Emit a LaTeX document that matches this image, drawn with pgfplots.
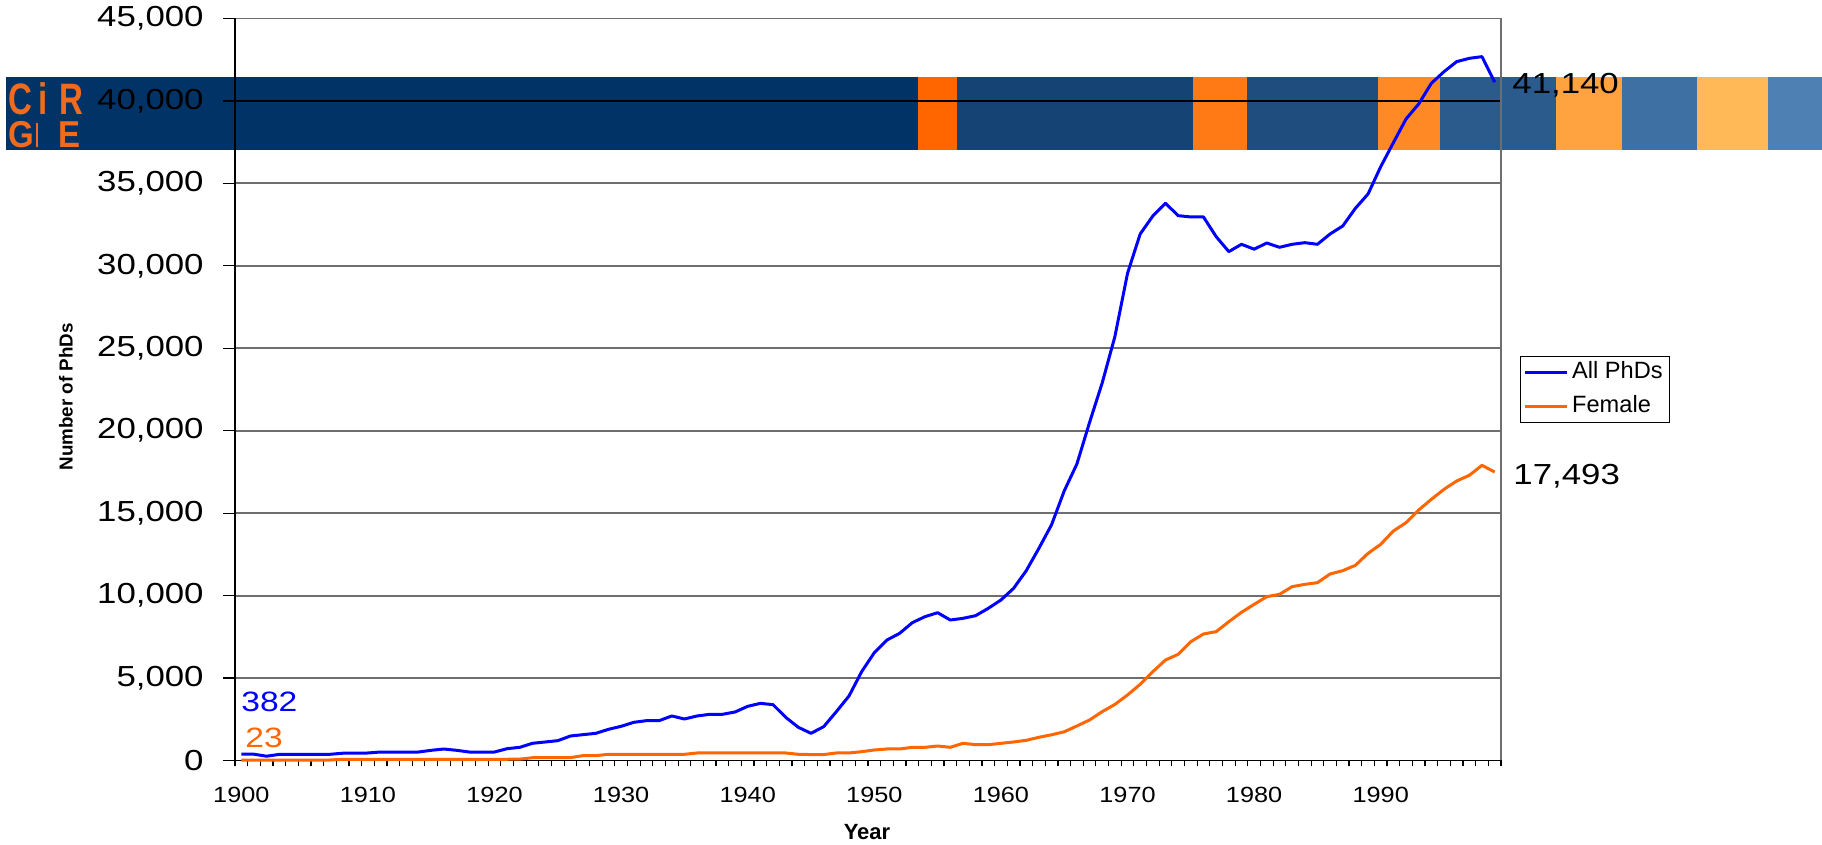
\documentclass[border=0pt]{standalone}
\usepackage{fontspec}
\setmainfont{Liberation Sans}
\usepackage{graphicx}
\usepackage{pgfplots}
\usepackage{pgfplotstable}
\pgfplotsset{compat=1.18}

\definecolor{navy}{HTML}{023366}
\definecolor{bo1}{HTML}{FF6600}
\definecolor{bb2}{HTML}{154373}
\definecolor{bo2}{HTML}{FF7A14}
\definecolor{bb3}{HTML}{1F4E7E}
\definecolor{bo3}{HTML}{FF8A25}
\definecolor{bb4}{HTML}{2B5B8C}
\definecolor{bo4}{HTML}{FFA23F}
\definecolor{bb5}{HTML}{3F70A3}
\definecolor{bo5}{HTML}{FFBA57}
\definecolor{bb6}{HTML}{4F80B4}
\definecolor{logoorange}{HTML}{F26B1D}
\definecolor{lineorange}{HTML}{FF6600}
\definecolor{lineblue}{HTML}{0000FF}
\definecolor{gridgray}{HTML}{6E6E6E}

\pgfplotstableread{
year all female
1900 382 23
1901 380 23
1902 260 25
1903 370 25
1904 370 25
1905 370 25
1906 370 25
1907 375 30
1908 440 70
1909 440 70
1910 455 70
1911 515 70
1912 515 70
1913 515 70
1914 515 70
1915 617 70
1916 697 70
1917 617 70
1918 515 70
1919 515 70
1920 515 70
1921 717 75
1922 800 80
1923 1043 170
1924 1122 170
1925 1203 170
1926 1486 175
1927 1567 293
1928 1648 293
1929 1890 375
1930 2072 375
1931 2315 375
1932 2416 375
1933 2416 375
1934 2700 375
1935 2517 375
1936 2700 455
1937 2800 455
1938 2800 455
1939 2942 455
1940 3285 455
1941 3466 455
1942 3385 455
1943 2618 455
1944 2012 375
1945 1648 360
1946 2052 360
1947 2962 455
1948 3912 455
1949 5388 536
1950 6540 637
1951 7308 698
1952 7712 698
1953 8359 799
1954 8722 799
1955 8964 879
1956 8520 799
1957 8621 1041
1958 8783 960
1959 9228 960
1960 9733 1041
1961 10440 1122
1962 11511 1223
1963 12869 1405
1964 14300 1560
1965 16350 1740
1966 17983 2092
1967 20500 2456
1968 22900 2962
1969 25706 3400
1970 29547 3973
1971 31932 4620
1972 33024 5388
1973 33793 6095
1974 33043 6439
1975 32963 7207
1976 32963 7672
1977 31771 7813
1978 30861 8419
1979 31306 8985
1980 31010 9470
1981 31385 9935
1982 31124 10076
1983 31306 10541
1984 31404 10683
1985 31306 10784
1986 31932 11311
1987 32417 11513
1988 33490 11836
1989 34358 12564
1990 36015 13110
1991 37470 13919
1992 38907 14424
1993 39816 15193
1994 41072 15840
1995 41776 16447
1996 42383 16952
1997 42585 17296
1998 42686 17903
1999 41140 17493
}\phddata

\begin{document}
\begin{tikzpicture}
\useasboundingbox (-117.5pt,-42.25pt) rectangle (793.5pt,380.25pt);
% banner
\fill[navy] (-114.5pt,305.25pt) rectangle (341.5pt,341.75pt);
\fill[bo1] (341.5pt,305.25pt) rectangle (361pt,341.75pt);
\fill[bb2] (361pt,305.25pt) rectangle (479pt,341.75pt);
\fill[bo2] (479pt,305.25pt) rectangle (506pt,341.75pt);
\fill[bb3] (506pt,305.25pt) rectangle (571.5pt,341.75pt);
\fill[bo3] (571.5pt,305.25pt) rectangle (602.5pt,341.75pt);
\fill[bb4] (602.5pt,305.25pt) rectangle (660.5pt,341.75pt);
\fill[bo4] (660.5pt,305.25pt) rectangle (693.5pt,341.75pt);
\fill[bb5] (693.5pt,305.25pt) rectangle (731pt,341.75pt);
\fill[bo5] (731pt,305.25pt) rectangle (766.5pt,341.75pt);
\fill[bb6] (766.5pt,305.25pt) rectangle (793.5pt,341.75pt);
% logo
\node[inner sep=0pt, anchor=base west, text=logoorange, font=\fontsize{22}{22}\selectfont\bfseries]
  at (-113.5pt,322.75pt) {\rlap{\raisebox{-16.25pt}{\scalebox{0.75}[0.85]{G\hspace{16pt}E}}}\scalebox{0.75}[1]{C\hspace{4pt}i\hspace{8pt}R}};
\fill[logoorange] (-99.5pt,306.5pt) rectangle (-98.3pt,318.5pt);

\begin{axis}[
  at={(0pt,0pt)}, anchor=south west,
  scale only axis, width=633pt, height=371pt,
  xmin=1899.5, xmax=1999.5, ymin=0, ymax=45000,
  clip=false,
  axis x line*=bottom, axis y line*=left,
  axis line style={black, line width=0.6pt},
  tick align=outside, major tick length=6pt, minor tick length=3pt,
  tick style={black, line width=0.6pt},
  xtick={1900,1910,...,1990},
  minor xtick={1899.5,1900.5,...,1999.5},
  major x tick style={draw=none},
  ytick={0,5000,...,45000},
  scaled y ticks=false,
  ymajorgrids,
  major grid style={gridgray, line width=0.9pt},
  extra y ticks={40000}, extra y tick labels={},
  extra y tick style={grid=major, major grid style={black, line width=0.6pt}},
  yticklabel={\scalebox{1.2}[1]{\pgfmathprintnumber[fixed,precision=0,1000 sep={,},assume math mode=true]{\tick}}},
  xticklabel={\scalebox{1.15}[1]{\pgfmathprintnumber[fixed,precision=0,1000 sep={},assume math mode=true]{\tick}}},
  yticklabel style={anchor=east, inner sep=0pt, xshift=-9.5pt, font=\fontsize{14.5}{16}\selectfont},
  xticklabel style={anchor=north, inner sep=0pt, yshift=-7pt, font=\fontsize{11}{13}\selectfont},
  ylabel={Number of PhDs},
  ylabel style={at={(axis description cs:-0.1335,0.49)}, anchor=center, font=\fontsize{9.4}{11}\selectfont\bfseries},
  xlabel={Year},
  xlabel style={at={(axis description cs:0.4992,-0.0964)}, anchor=center, font=\fontsize{11}{13}\selectfont\bfseries},
  legend style={at={(rel axis cs:1.015,0.545)}, anchor=north west, draw=black, line width=0.6pt,
    font=\fontsize{11.8}{13}\selectfont, inner xsep=1.5pt, inner ysep=0.5pt, row sep=2pt,
    nodes={inner sep=2pt, text height=8.5pt, text depth=2.5pt}},
  legend cell align=left,
  legend image code/.code={\draw[#1, line width=1.3pt] (0pt,0pt) -- (21pt,0pt);},
]
\addplot[lineblue, line width=1.5pt, line join=round] table[x=year, y=all] {\phddata};
\addlegendentry{All PhDs}
\addplot[lineorange, line width=1.5pt, line join=round] table[x=year, y=female] {\phddata};
\addlegendentry{Female}
\draw[gridgray, line width=0.9pt] (rel axis cs:1,0) -- (rel axis cs:1,1);
\pgfplotsinvokeforeach{0,5000,10000,15000,20000,25000,30000,35000,40000,45000}{
  \draw[black, line width=0.6pt] (axis cs:1899.5,#1) -- ++(-6pt,0pt);
}
\node[anchor=base west, inner sep=0pt, text=lineblue, font=\fontsize{14}{16}\selectfont] at (axis cs:1899.97,2941) {\scalebox{1.2}[1]{382}};
\node[anchor=base west, inner sep=0pt, text=lineorange, font=\fontsize{14}{16}\selectfont] at (axis cs:1900.29,758) {\scalebox{1.2}[1]{23}};
\node[anchor=base west, inner sep=0pt, font=\fontsize{14.5}{16}\selectfont] at (axis cs:2000.37,40424) {\scalebox{1.2}[1]{41,140}};
\node[anchor=base west, inner sep=0pt, font=\fontsize{14.5}{16}\selectfont] at (axis cs:2000.45,16709) {\scalebox{1.2}[1]{17,493}};
\end{axis}
\end{tikzpicture}
\end{document}
